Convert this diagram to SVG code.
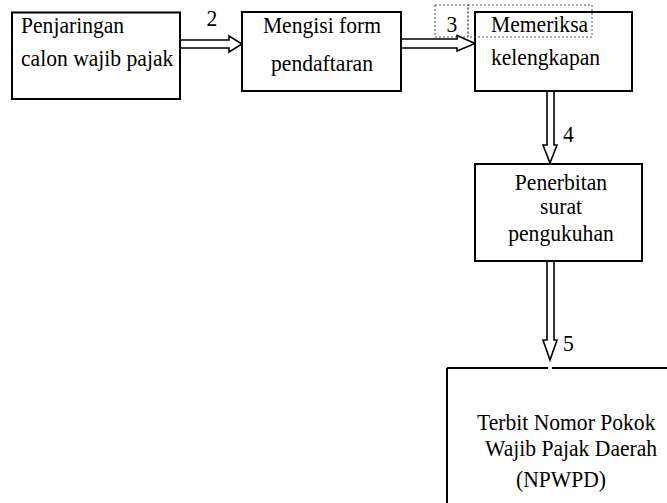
<svg xmlns="http://www.w3.org/2000/svg" width="667" height="503" viewBox="0 0 667 503">
<style>
.box{fill:#fff;stroke:#000;stroke-width:2}
.edge{fill:none;stroke:#000;stroke-width:2}
.arr{fill:#fff;stroke:#000;stroke-width:1.6;stroke-linejoin:miter}
.dot{fill:none;stroke:#555;stroke-width:1;stroke-dasharray:2 2}
.t{font-family:'Liberation Serif',serif;font-size:24px;fill:#000}
.m{text-anchor:middle}
</style>
<rect width="667" height="503" fill="#fff"/>
<g id="connectors">
<polygon class="arr" points="180,40 229,40 229,36 242,44 229,52 229,48 180,48"/>
<polygon class="arr" points="401,39 457,39 457,35.5 475,43.5 457,51 457,48 401,48"/>
<polygon class="arr" points="547,91 547,145 543,145 550,163 557,145 554,145 554,91"/>
<polygon class="arr" points="547,261 547,340 543,340 550,360 557,340 554,340 554,261"/>
<text class="t m" transform="scale(0.9 1)" x="235.56" y="26">2</text>
<rect class="dot" x="435" y="5" width="33" height="32"/>
<text class="t m" transform="scale(0.9 1)" x="502.22" y="32">3</text>
<text class="t" transform="scale(0.9 1)" x="625.56" y="142">4</text>
<text class="t" transform="scale(0.9 1)" x="625.56" y="351">5</text>
</g>
<g id="node1">
<rect class="box" x="12" y="12.5" width="168" height="86.5"/>
<text class="t" transform="scale(0.9 1)" x="23.33" y="33">Penjaringan</text>
<text class="t" transform="scale(0.9 1)" x="23.33" y="66">calon wajib pajak</text>
</g>
<g id="node2">
<rect class="box" x="242" y="12" width="159" height="79"/>
<text class="t m" transform="scale(0.9 1)" x="357.78" y="33">Mengisi form</text>
<text class="t m" transform="scale(0.9 1)" x="357.78" y="71">pendaftaran</text>
</g>
<g id="node3">
<rect class="box" x="475" y="12" width="157" height="79"/>
<rect class="dot" x="468" y="5" width="124" height="32"/>
<text class="t" transform="scale(0.9 1)" x="545.56" y="32">Memeriksa</text>
<text class="t" transform="scale(0.9 1)" x="545.56" y="65">kelengkapan</text>
</g>
<g id="node4">
<rect class="box" x="475" y="164" width="167" height="97"/>
<text class="t m" transform="scale(0.9 1)" x="623.33" y="190">Penerbitan</text>
<text class="t m" transform="scale(0.9 1)" x="623.33" y="214">surat</text>
<text class="t m" transform="scale(0.9 1)" x="623.33" y="241">pengukuhan</text>
</g>
<g id="node5">
<path class="edge" d="M447,368 H548 M552,368 H667 M447,368 V503"/>
<text class="t" transform="scale(0.9 1)" x="530" y="430">Terbit Nomor Pokok</text>
<text class="t" transform="scale(0.9 1)" x="538.89" y="456">Wajib Pajak Daerah</text>
<text class="t m" transform="scale(0.9 1)" x="623.33" y="487">(NPWPD)</text>
</g>
</svg>
